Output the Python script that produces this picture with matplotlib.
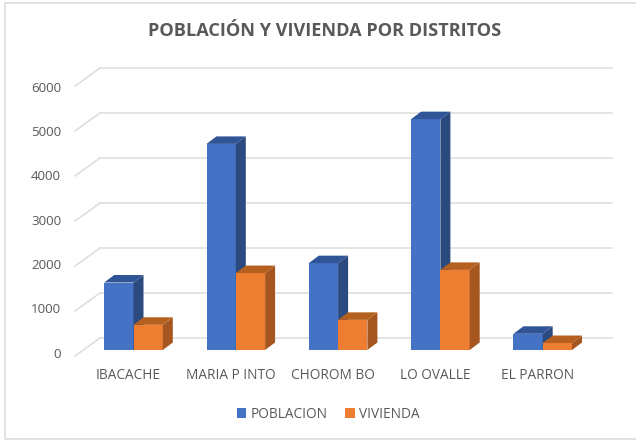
import matplotlib
matplotlib.use("Agg")
import matplotlib.pyplot as plt
from matplotlib.patches import Polygon, Rectangle
from matplotlib.lines import Line2D

categories = ["IBACACHE", "MARIA P INTO", "CHOROM BO", "LO OVALLE", "EL PARRON"]
poblacion = [1500, 4580, 1930, 5130, 360]
vivienda = [560, 1710, 670, 1780, 155]
y_ticks = [0, 1000, 2000, 3000, 4000, 5000, 6000]

W, H = 636, 440
# px per unit, used to set the limits of the full-figure axes
PX_X = 102.3
PX_Y = 0.045
X0 = 133.5
Y0 = 350.0

plt.rcParams["font.family"] = ["Open Sans", "DejaVu Sans"]
TXT = "#595959"

fig = plt.figure(figsize=(6.36, 4.4), dpi=100)
ax = fig.add_axes([0, 0, 1, 1])
ax.set_xlim(-X0 / PX_X, (W - X0) / PX_X)
ax.set_ylim(-(H - Y0) / PX_Y, Y0 / PX_Y)
ax.axis("off")

bar_w = 29.3 / PX_X
dx = 10.0 / PX_X      # depth of the 3d bars
dy = 7.5 / PX_Y
grid_left = -(X0 - 75) / PX_X
grid_back = -(X0 - 100) / PX_X
grid_right = (612 - X0) / PX_X
floor_back = 12.0 / PX_Y
floor_front = -6.0 / PX_Y

# back wall and left wall gridlines
for v in y_ticks:
    ax.plot([grid_back, grid_right], [v + floor_back] * 2, color="#DCDCDC", lw=1.1, zorder=1)
    ax.plot([grid_left, grid_back], [v + floor_front, v + floor_back], color="#DCDCDC", lw=1.1, zorder=1)
    ax.text(grid_left - 14 / PX_X, v * 0.985 - 4 / PX_Y, str(v), ha="right", va="center",
            fontsize=9.6, color=TXT)


def bar3d(x, v, front, side, top, z):
    ax.add_patch(Rectangle((x, 0), bar_w, v, fc=front, ec="none", zorder=z))
    ax.add_patch(Polygon([(x + bar_w, 0), (x + bar_w + dx, dy), (x + bar_w + dx, v + dy), (x + bar_w, v)],
                         fc=side, ec="none", zorder=z))
    ax.add_patch(Polygon([(x, v), (x + dx, v + dy), (x + bar_w + dx, v + dy), (x + bar_w, v)],
                         fc=top, ec="none", zorder=z))


for i, cat in enumerate(categories):
    bar3d(i - bar_w, poblacion[i], "#4472C4", "#2B4A80", "#2F5597", 3)
    bar3d(i, vivienda[i], "#ED7D31", "#A5571F", "#B5601F", 4)
    ax.text(i - 5 / PX_X, -25 / PX_Y, cat, ha="center", va="center", fontsize=9.8, color=TXT)

ax.text((324.5 - X0) / PX_X, (Y0 - 31) / PX_Y, "POBLACIÓN Y VIVIENDA POR DISTRITOS",
        ha="center", va="center", fontsize=13.1, fontweight="bold", color=TXT)

# legend
handles = [Rectangle((0, 0), 1, 1, fc="#4472C4"), Rectangle((0, 0), 1, 1, fc="#ED7D31")]
fig.legend(handles, ["POBLACION", "VIVIENDA"], ncol=2, frameon=False, loc="center",
           bbox_to_anchor=(328 / W, 1 - 414 / H), fontsize=9.8, labelcolor=TXT,
           handlelength=0.7, handleheight=0.7, handletextpad=0.3, columnspacing=1.3)

# frame of the picture, the right side runs off the image
frame_x = [W / W, 5 / W, 5 / W, W / W]
frame_y = [1 - 3 / H, 1 - 3 / H, 1 - 438.5 / H, 1 - 438.5 / H]
fig.add_artist(Line2D(frame_x, frame_y, transform=fig.transFigure, color="#DCDCDC", lw=1.2))

plt.savefig("out.png", dpi=100)
